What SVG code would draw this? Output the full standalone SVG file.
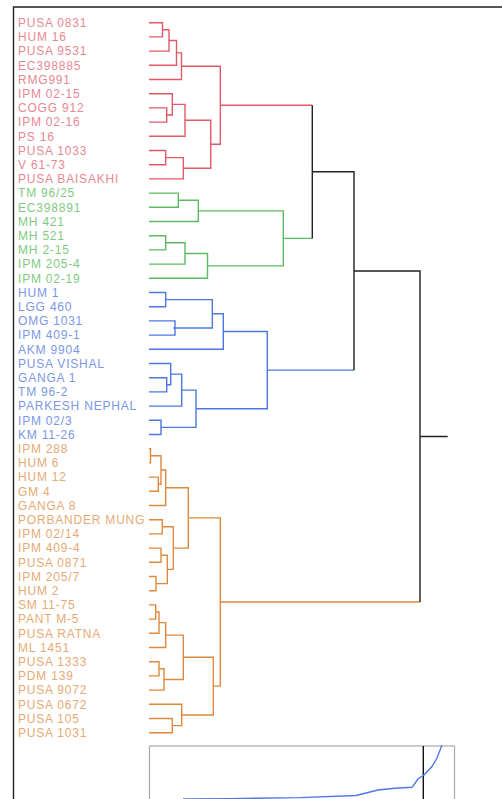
<svg xmlns="http://www.w3.org/2000/svg" width="502" height="799" viewBox="0 0 502 799">
<style>
text{font-family:"Liberation Sans",Arial,sans-serif;font-size:12px;letter-spacing:0.8px}
.r text{fill:#e98893}.g text{fill:#7fcb82}.b text{fill:#7b97e6}.o text{fill:#e7aa74}
path{fill:none;stroke-width:1.4}
.cr{stroke:#e05a69}.cg{stroke:#5cbb62}.cb{stroke:#4c78e0}.co{stroke:#de8a3e}.ck{stroke:#222}
</style>
<rect width="502" height="799" fill="#fff"/>
<g id="frame"><path d="M13.5,799 V7 H502" stroke="#222" stroke-width="2" fill="none"/></g>
<g id="labels">
<g class="r">
<g id="n0"><text x="18" y="26.9">PUSA 0831</text></g>
<g id="n1"><text x="18" y="41.1">HUM 16</text></g>
<g id="n2"><text x="18" y="55.3">PUSA 9531</text></g>
<g id="n3"><text x="18" y="69.5">EC398885</text></g>
<g id="n4"><text x="18" y="83.7">RMG991</text></g>
<g id="n5"><text x="18" y="97.9">IPM 02-15</text></g>
<g id="n6"><text x="18" y="112.1">COGG 912</text></g>
<g id="n7"><text x="18" y="126.3">IPM 02-16</text></g>
<g id="n8"><text x="18" y="140.5">PS 16</text></g>
<g id="n9"><text x="18" y="154.7">PUSA 1033</text></g>
<g id="n10"><text x="18" y="168.9">V 61-73</text></g>
<g id="n11"><text x="18" y="183.1">PUSA BAISAKHI</text></g>
</g>
<g class="g">
<g id="n12"><text x="18" y="197.3">TM 96/25</text></g>
<g id="n13"><text x="18" y="211.5">EC398891</text></g>
<g id="n14"><text x="18" y="225.7">MH 421</text></g>
<g id="n15"><text x="18" y="239.9">MH 521</text></g>
<g id="n16"><text x="18" y="254.1">MH 2-15</text></g>
<g id="n17"><text x="18" y="268.3">IPM 205-4</text></g>
<g id="n18"><text x="18" y="282.5">IPM 02-19</text></g>
</g>
<g class="b">
<g id="n19"><text x="18" y="296.7">HUM 1</text></g>
<g id="n20"><text x="18" y="310.9">LGG 460</text></g>
<g id="n21"><text x="18" y="325.1">OMG 1031</text></g>
<g id="n22"><text x="18" y="339.3">IPM 409-1</text></g>
<g id="n23"><text x="18" y="353.5">AKM 9904</text></g>
<g id="n24"><text x="18" y="367.7">PUSA VISHAL</text></g>
<g id="n25"><text x="18" y="381.9">GANGA 1</text></g>
<g id="n26"><text x="18" y="396.1">TM 96-2</text></g>
<g id="n27"><text x="18" y="410.3">PARKESH NEPHAL</text></g>
<g id="n28"><text x="18" y="424.5">IPM 02/3</text></g>
<g id="n29"><text x="18" y="438.7">KM 11-26</text></g>
</g>
<g class="o">
<g id="n30"><text x="18" y="452.9">IPM 288</text></g>
<g id="n31"><text x="18" y="467.1">HUM 6</text></g>
<g id="n32"><text x="18" y="481.3">HUM 12</text></g>
<g id="n33"><text x="18" y="495.5">GM 4</text></g>
<g id="n34"><text x="18" y="509.7">GANGA 8</text></g>
<g id="n35"><text x="18" y="523.9">PORBANDER MUNG</text></g>
<g id="n36"><text x="18" y="538.1">IPM 02/14</text></g>
<g id="n37"><text x="18" y="552.3">IPM 409-4</text></g>
<g id="n38"><text x="18" y="566.5">PUSA 0871</text></g>
<g id="n39"><text x="18" y="580.7">IPM 205/7</text></g>
<g id="n40"><text x="18" y="594.9">HUM 2</text></g>
<g id="n41"><text x="18" y="609.1">SM 11-75</text></g>
<g id="n42"><text x="18" y="623.3">PANT M-5</text></g>
<g id="n43"><text x="18" y="637.5">PUSA RATNA</text></g>
<g id="n44"><text x="18" y="651.7">ML 1451</text></g>
<g id="n45"><text x="18" y="665.9">PUSA 1333</text></g>
<g id="n46"><text x="18" y="680.1">PDM 139</text></g>
<g id="n47"><text x="18" y="694.3">PUSA 9072</text></g>
<g id="n48"><text x="18" y="708.5">PUSA 0672</text></g>
<g id="n49"><text x="18" y="722.7">PUSA 105</text></g>
<g id="n50"><text x="18" y="736.9">PUSA 1031</text></g>
</g>
</g>
<g id="connectors">
<path class="cr" d="M149,22.7 H162.5 V36.9 H149 M162.5,29.8 H169 V51.1 H149 M169,40.45 H176.5 V65.3 H149 M176.5,52.9 H181.5 V79.5 H149 M149,107.9 H166.7 V122.1 H149 M149,93.7 H172.3 V115 H166.7 M172.3,104.35 H185 V136.3 H149 M149,150.5 H165.7 V164.7 H149 M165.7,157.6 H183.3 V178.9 H149 M185,120.3 H210.7 V168.25 H183.3 M181.5,66.2 H220.3 V144.3 H210.7 M220.3,105.25 H312.3"/>
<path class="cg" d="M149,193.1 H178.3 V207.3 H149 M178.3,200.2 H198.3 V221.5 H149 M149,235.7 H165.7 V249.9 H149 M165.7,242.8 H185 V264.1 H149 M185,253.45 H207.5 V278.3 H149 M198.3,210.85 H283.3 V265.9 H207.5 M283.3,238.4 H312.3"/>
<path class="cb" d="M149,292.5 H165.7 V306.7 H149 M149,320.9 H175 V335.1 H149 M165.7,299.6 H212.3 V328 H173.3 M212.3,313.8 H223.3 V349.3 H149 M149,377.7 H166.7 V391.9 H149 M149,363.5 H170.7 V384.8 H166.7 M170.7,374.15 H181.7 V406.1 H149 M149,420.3 H161 V434.5 H149 M181.7,390.1 H196 V427.4 H161 M223.3,331.55 H267.3 V408.75 H196 M267.3,370.15 H354"/>
<path class="co" d="M149,448.7 H150.5 V462.9 H149 M149,477.1 H158.3 V491.3 H149 M150.5,455.8 H161 V484.2 H158.3 M161,470 H165.7 V505.5 H149 M149,519.7 H162.3 V533.9 H149 M149,548.1 H161 V562.3 H149 M149,576.5 H156 V590.7 H149 M161,555.2 H167.3 V583.6 H156 M162.3,526.8 H173.3 V569.4 H167.3 M165.7,487.75 H188.3 V548.1 H173.3 M149,604.9 H155.7 V619.1 H149 M155.7,612 H159 V633.3 H149 M159,622.65 H165.7 V647.5 H149 M149,661.7 H159 V675.9 H149 M159,668.8 H164 V690.1 H149 M165.7,635.1 H183.3 V679.45 H164 M149,718.5 H172.3 V732.7 H149 M149,704.3 H181.7 V725.6 H172.3 M183.3,657.3 H213.3 V714.95 H181.7 M188.3,517.9 H220.3 V686.1 H213.3 M220.3,602 H420"/>
<path class="ck" d="M312.3,105.25 V238.4 M312.3,171.8 H354 V370.15 M354,271 H420 V602 M420,436.5 H447.7"/>
</g>
<g id="inset">
<rect x="149.5" y="746" width="305" height="60" fill="none" stroke="#aaa" stroke-width="1.2"/>
<path d="M423.3,746 V799" stroke="#111" stroke-width="1.4"/>
<path d="M183,799 L230,798.6 L300,797.6 L356,795.5 L378,790 L395,788.2 L412,787.3 L418,779 L424,775 L432,766.5 L437,758 L442,745" stroke="#4c78e8" stroke-width="1.4" fill="none"/>
</g>
</svg>
